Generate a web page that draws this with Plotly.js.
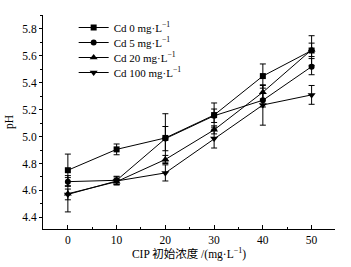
<!DOCTYPE html>
<html>
<head>
<meta charset="utf-8">
<script src="https://cdn.plot.ly/plotly-3.0.1.min.js"></script>
<style>html,body{margin:0;padding:0;background:#fff;}</style>
</head>
<body>
<div id="chart" style="width:351px;height:267px;"></div>
<script>
// CIP initial concentration (mg/L)
const cip = [0, 10, 20, 30, 40, 50];
const seriesNames = ["Cd 0 mg·L<sup>−1</sup>", "Cd 5 mg·L<sup>−1</sup>", "Cd 20 mg·L<sup>−1</sup>", "Cd 100 mg·L<sup>−1</sup>"];
const ph_cd0   = [4.75, 4.905, 4.99, 5.16, 5.45, 5.64];
const ph_cd5   = [4.665, 4.675, 4.985, 5.155, 5.27, 5.52];
const ph_cd20  = [4.575, 4.665, 4.83, 5.05, 5.33, 5.645];
const ph_cd100 = [4.57, 4.67, 4.73, 4.985, 5.235, 5.31];
const err_cd0   = [0.12, 0.04, 0.18, 0.09, 0.09, 0.11];
const err_cd5   = [0.03, 0.03, 0.09, 0.05, 0.05, 0.06];
const err_cd20  = [0.135, 0.02, 0.03, 0.03, 0.05, 0.05];
const err_cd100 = [0.04, 0.03, 0.06, 0.07, 0.15, 0.07];
const symbols = ["square", "circle", "triangle-up", "triangle-down"];
const xTickVals = [0, 10, 20, 30, 40, 50];
const yTickVals = [4.4, 4.6, 4.8, 5.0, 5.2, 5.4, 5.6, 5.8];

const ys = [ph_cd0, ph_cd5, ph_cd20, ph_cd100];
const errs = [err_cd0, err_cd5, err_cd20, err_cd100];

const serif = "'Liberation Serif', 'Times New Roman', 'Noto Sans CJK SC', serif";

const traces = ys.map((y, i) => ({
  x: cip,
  y: y,
  name: seriesNames[i],
  type: "scatter",
  mode: "lines+markers",
  line: {color: "#000", width: 1},
  marker: {symbol: symbols[i], size: i >= 2 ? 7 : 6, color: "#000"},
  error_y: {type: "data", array: errs[i], visible: true, color: "#000", thickness: 1, width: 3}
}));

const layout = {
  width: 351,
  height: 267,
  margin: {l: 43, r: 16, t: 15, b: 38},
  paper_bgcolor: "#fff",
  plot_bgcolor: "#fff",
  font: {family: serif, size: 11, color: "#000"},
  showlegend: true,
  legend: {
    x: 0.105, y: 1.0, xanchor: "left", yanchor: "top",
    bgcolor: "rgba(0,0,0,0)", borderwidth: 0,
    font: {family: serif, size: 11, color: "#000"},
    tracegroupgap: 0
  },
  xaxis: {
    range: [-5.1, 54.8],
    tickvals: xTickVals,
    ticktext: xTickVals.map(String),
    ticks: "inside",
    ticklen: 4,
    tickcolor: "#000",
    minor: {dtick: 5, tick0: 0, ticks: "inside", ticklen: 2, tickcolor: "#000"},
    showline: true, linecolor: "#000", linewidth: 1,
    showgrid: false, zeroline: false,
    tickfont: {family: serif, size: 11.5, color: "#000"},
    title: {text: "CIP 初始浓度 /(mg·L<sup>−1</sup>)", font: {family: serif, size: 11.5, color: "#000"}, standoff: 4}
  },
  yaxis: {
    range: [4.313, 5.904],
    tickvals: yTickVals,
    ticktext: yTickVals.map(v => v.toFixed(1)),
    ticks: "outside",
    ticklen: 3,
    tickcolor: "#000",
    minor: {dtick: 0.1, tick0: 4.4, ticks: "outside", ticklen: 2, tickcolor: "#000"},
    showline: true, linecolor: "#000", linewidth: 1,
    showgrid: false, zeroline: false,
    tickfont: {family: serif, size: 11.5, color: "#000"},
    title: {text: "pH", font: {family: serif, size: 11.5, color: "#000"}, standoff: 6}
  }
};

function tightenLegend() {
  const items = document.querySelectorAll("#chart .legend .traces");
  let y0 = null;
  items.forEach((el, i) => {
    const t = el.getAttribute("transform") || "";
    const m = t.match(/translate\(\s*([-\d.]+)[ ,]+([-\d.]+)\s*\)/);
    if (!m) return;
    const x = parseFloat(m[1]);
    const y = parseFloat(m[2]);
    if (y0 === null) y0 = y - 2;
    el.setAttribute("transform", "translate(" + x + "," + (y0 + i * 15) + ")");
  });
}

Plotly.newPlot("chart", traces, layout, {displayModeBar: false, staticPlot: true}).then(tightenLegend);
</script>
</body>
</html>
